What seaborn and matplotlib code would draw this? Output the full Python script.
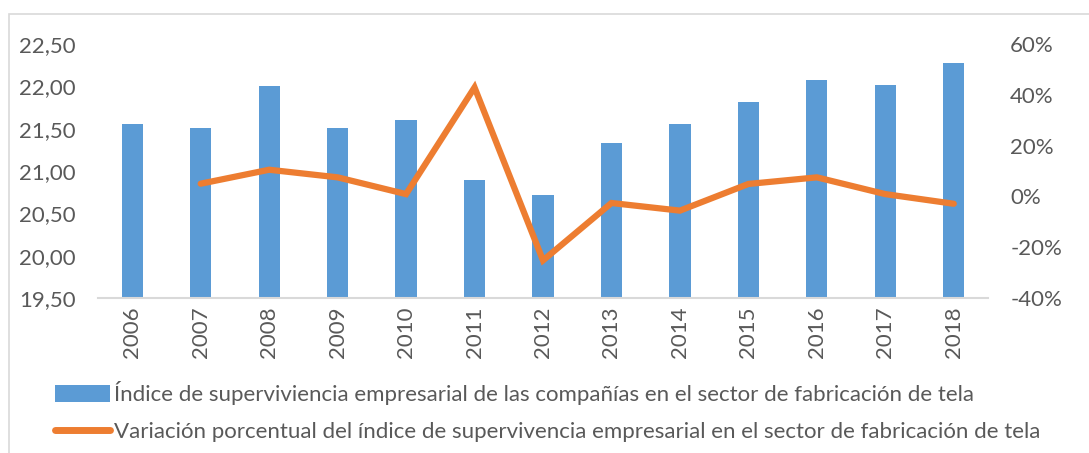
import numpy as np
import pandas as pd
import matplotlib
matplotlib.use("Agg")
import matplotlib.pyplot as plt
import seaborn as sns
from matplotlib.patches import Patch, Rectangle
from matplotlib.lines import Line2D
from matplotlib.ticker import FuncFormatter

# Data
years = ['2006', '2007', '2008', '2009', '2010', '2011', '2012',
         '2013', '2014', '2015', '2016', '2017', '2018']
survival_index = [21.56, 21.51, 22.00, 21.51, 21.60, 20.89, 20.72,
                  21.33, 21.56, 21.81, 22.08, 22.01, 22.27]
pct_change = [np.nan, 0.050, 0.105, 0.075, 0.009, 0.429, -0.252,
              -0.026, -0.056, 0.049, 0.075, 0.009, -0.029]

bar_label = 'Índice de superviviencia empresarial de las compañías en el sector de fabricación de tela'
line_label = 'Variación porcentual del índice de supervivencia empresarial en el sector de fabricación de tela'

BLUE = '#5B9BD5'
ORANGE = '#ED7D31'
GRAY_TXT = '#595959'
GRAY_LINE = '#D9D9D9'

sns.set_theme(style='white')
plt.rcParams['font.family'] = ['Liberation Sans Narrow', 'Lato', 'DejaVu Sans']
FS = 16

df = pd.DataFrame({'year': years, 'index': survival_index, 'change': pct_change})
df['pos'] = np.arange(len(df))

W, H = 1089, 453
fig = plt.figure(figsize=(W / 100, H / 100), dpi=100)
fig.patch.set_facecolor('white')

# outer chart border (light gray)
fig.add_artist(Rectangle((9 / W, -0.1), 1.2, 1 - 14 / H + 0.1, transform=fig.transFigure,
                         fill=False, edgecolor=GRAY_LINE, linewidth=1.2))

ax = fig.add_axes([98 / W, 1 - 298 / H, 890 / W, (298 - 44) / H])
sns.barplot(data=df, x='year', y='index', ax=ax, color=BLUE, width=0.31,
            saturation=1, edgecolor='none')
ax.set_ylim(19.5, 22.5)
ax.set_xlim(-0.5, len(years) - 0.5)
ax.set_yticks(np.arange(19.5, 22.51, 0.5))
ax.yaxis.set_major_formatter(FuncFormatter(lambda v, p: f'{v:.2f}'.replace('.', ',')))
ax.set_xlabel('')
ax.set_ylabel('')
ax.tick_params(axis='x', rotation=90, labelsize=FS, colors=GRAY_TXT, length=0, pad=6)
ax.tick_params(axis='y', labelsize=FS, colors=GRAY_TXT, length=0, pad=16)
for s in ['top', 'right', 'left']:
    ax.spines[s].set_visible(False)
ax.spines['bottom'].set_color(GRAY_LINE)
ax.spines['bottom'].set_linewidth(1.5)

ax2 = ax.twinx()
line_df = df.dropna(subset=['change'])
sns.lineplot(data=line_df, x='pos', y='change', ax=ax2, color=ORANGE,
             linewidth=4.5, solid_joinstyle='miter')
ax2.set_ylim(-0.4, 0.6)
ax2.set_yticks(np.arange(-0.4, 0.61, 0.2))
ax2.yaxis.set_major_formatter(FuncFormatter(lambda v, p: f'{v * 100:.0f}%'))
ax2.tick_params(axis='y', labelsize=FS, colors=GRAY_TXT, length=0, pad=16)
ax2.set_ylabel('')
ax2.set_xlabel('')
for s in ['top', 'right', 'left', 'bottom']:
    ax2.spines[s].set_visible(False)
ax2.set_xlim(-0.5, len(years) - 0.5)

handles = [Patch(facecolor=BLUE, edgecolor='none'),
           Line2D([0], [0], color=ORANGE, linewidth=5, solid_capstyle='round')]
fig.legend(handles, [bar_label, line_label], loc='upper left',
           bbox_to_anchor=(46 / W, 1 - 372 / H), frameon=False, fontsize=FS,
           labelcolor=GRAY_TXT, handlelength=2.5, handleheight=0.8,
           handletextpad=0.15, labelspacing=0.75, borderaxespad=0)

fig.savefig('out.png', dpi=100, facecolor='white')
